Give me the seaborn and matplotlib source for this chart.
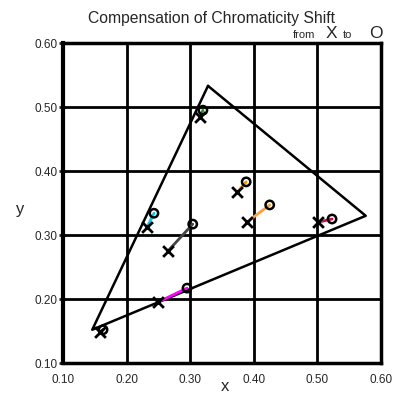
import matplotlib
matplotlib.use("Agg")
import matplotlib.pyplot as plt
import seaborn as sns
import pandas as pd

# Data
tri_x = [0.328, 0.576, 0.146, 0.328]
tri_y = [0.533, 0.330, 0.152, 0.533]

ids = ["green", "cyan", "gray", "gold", "orange", "crimson", "magenta", "black"]
from_x = [0.315, 0.232, 0.265, 0.374, 0.389, 0.501, 0.249, 0.158]
from_y = [0.484, 0.312, 0.275, 0.367, 0.320, 0.320, 0.195, 0.148]
to_x = [0.320, 0.243, 0.304, 0.388, 0.425, 0.523, 0.295, 0.163]
to_y = [0.495, 0.334, 0.317, 0.383, 0.347, 0.325, 0.217, 0.152]
colors = ["#1a9a1a", "#10c8e8", "#444444", "#e8a000", "#ffa040", "#c8104a", "#ff00ff", "#000000"]

x_ticks = [0.10, 0.20, 0.30, 0.40, 0.50, 0.60]
y_ticks = [0.10, 0.20, 0.30, 0.40, 0.50, 0.60]

sns.set_style("white")
plt.rcParams['font.family'] = ['Liberation Sans', 'DejaVu Sans']

fig = plt.figure(figsize=(3.99, 3.96), dpi=100)
ax = fig.add_axes([63/399, 33/396, (381-63)/399, (363-43)/396])

seg = pd.DataFrame({
    "id": ids * 2,
    "x": from_x + to_x,
    "y": from_y + to_y,
    "end": ["from"] * len(ids) + ["to"] * len(ids),
})
pal = dict(zip(ids, colors))

# grid
for v in x_ticks:
    ax.axvline(v, color="black", lw=2.0, zorder=1)
for v in y_ticks:
    ax.axhline(v, color="black", lw=2.0, zorder=1)

tri = pd.DataFrame({"x": tri_x, "y": tri_y})
sns.lineplot(data=tri, x="x", y="y", sort=False, estimator=None, color="black", lw=1.8, ax=ax, zorder=2)

sns.lineplot(data=seg, x="x", y="y", hue="id", units="id", estimator=None, sort=False,
             palette=pal, lw=2.0, ax=ax, legend=False, zorder=3)

fr = seg[seg["end"] == "from"]
to = seg[seg["end"] == "to"]
sns.scatterplot(data=fr, x="x", y="y", marker="x", s=60, color="black", linewidths=2.0, ax=ax, zorder=4, legend=False)
ax.scatter(to["x"], to["y"], marker="o", s=36, facecolors="none", edgecolors="black", linewidths=1.8, zorder=5)

ax.set_xlim(0.10, 0.60)
ax.set_ylim(0.10, 0.60)
ax.set_xticks(x_ticks)
ax.set_yticks(y_ticks)
ax.set_xticklabels([f"{v:.2f}" for v in x_ticks], fontsize=8.5)
ax.set_yticklabels([f"{v:.2f}" for v in y_ticks], fontsize=8.5)
ax.tick_params(axis="x", length=0, pad=8)
ax.tick_params(axis="y", length=3, width=2, direction="out", pad=1, left=True)
ax.set_xlabel("x", fontsize=12)
ax.set_ylabel("y", fontsize=12, rotation=0, va="center", ha="center")
ax.xaxis.set_label_coords(0.51, -0.05)
ax.yaxis.set_label_coords(-0.135, 0.48)
for s in ax.spines.values():
    s.set_linewidth(2.5)
    s.set_color("black")
ax.spines["left"].set_linewidth(3)

fig.text(211/399, 1 - 18/396, "Compensation of Chromaticity Shift", ha="center", va="center", fontsize=11.3)
fig.text(315/399, 1 - 35/396, "from", ha="right", va="center", fontsize=8)
fig.text(331/399, 1 - 34/396, "X", ha="center", va="center", fontsize=12.5)
fig.text(347/399, 1 - 35/396, "to", ha="center", va="center", fontsize=8)
fig.text(376/399, 1 - 34/396, "O", ha="center", va="center", fontsize=12.5)

fig.savefig("out.png", dpi=100)
